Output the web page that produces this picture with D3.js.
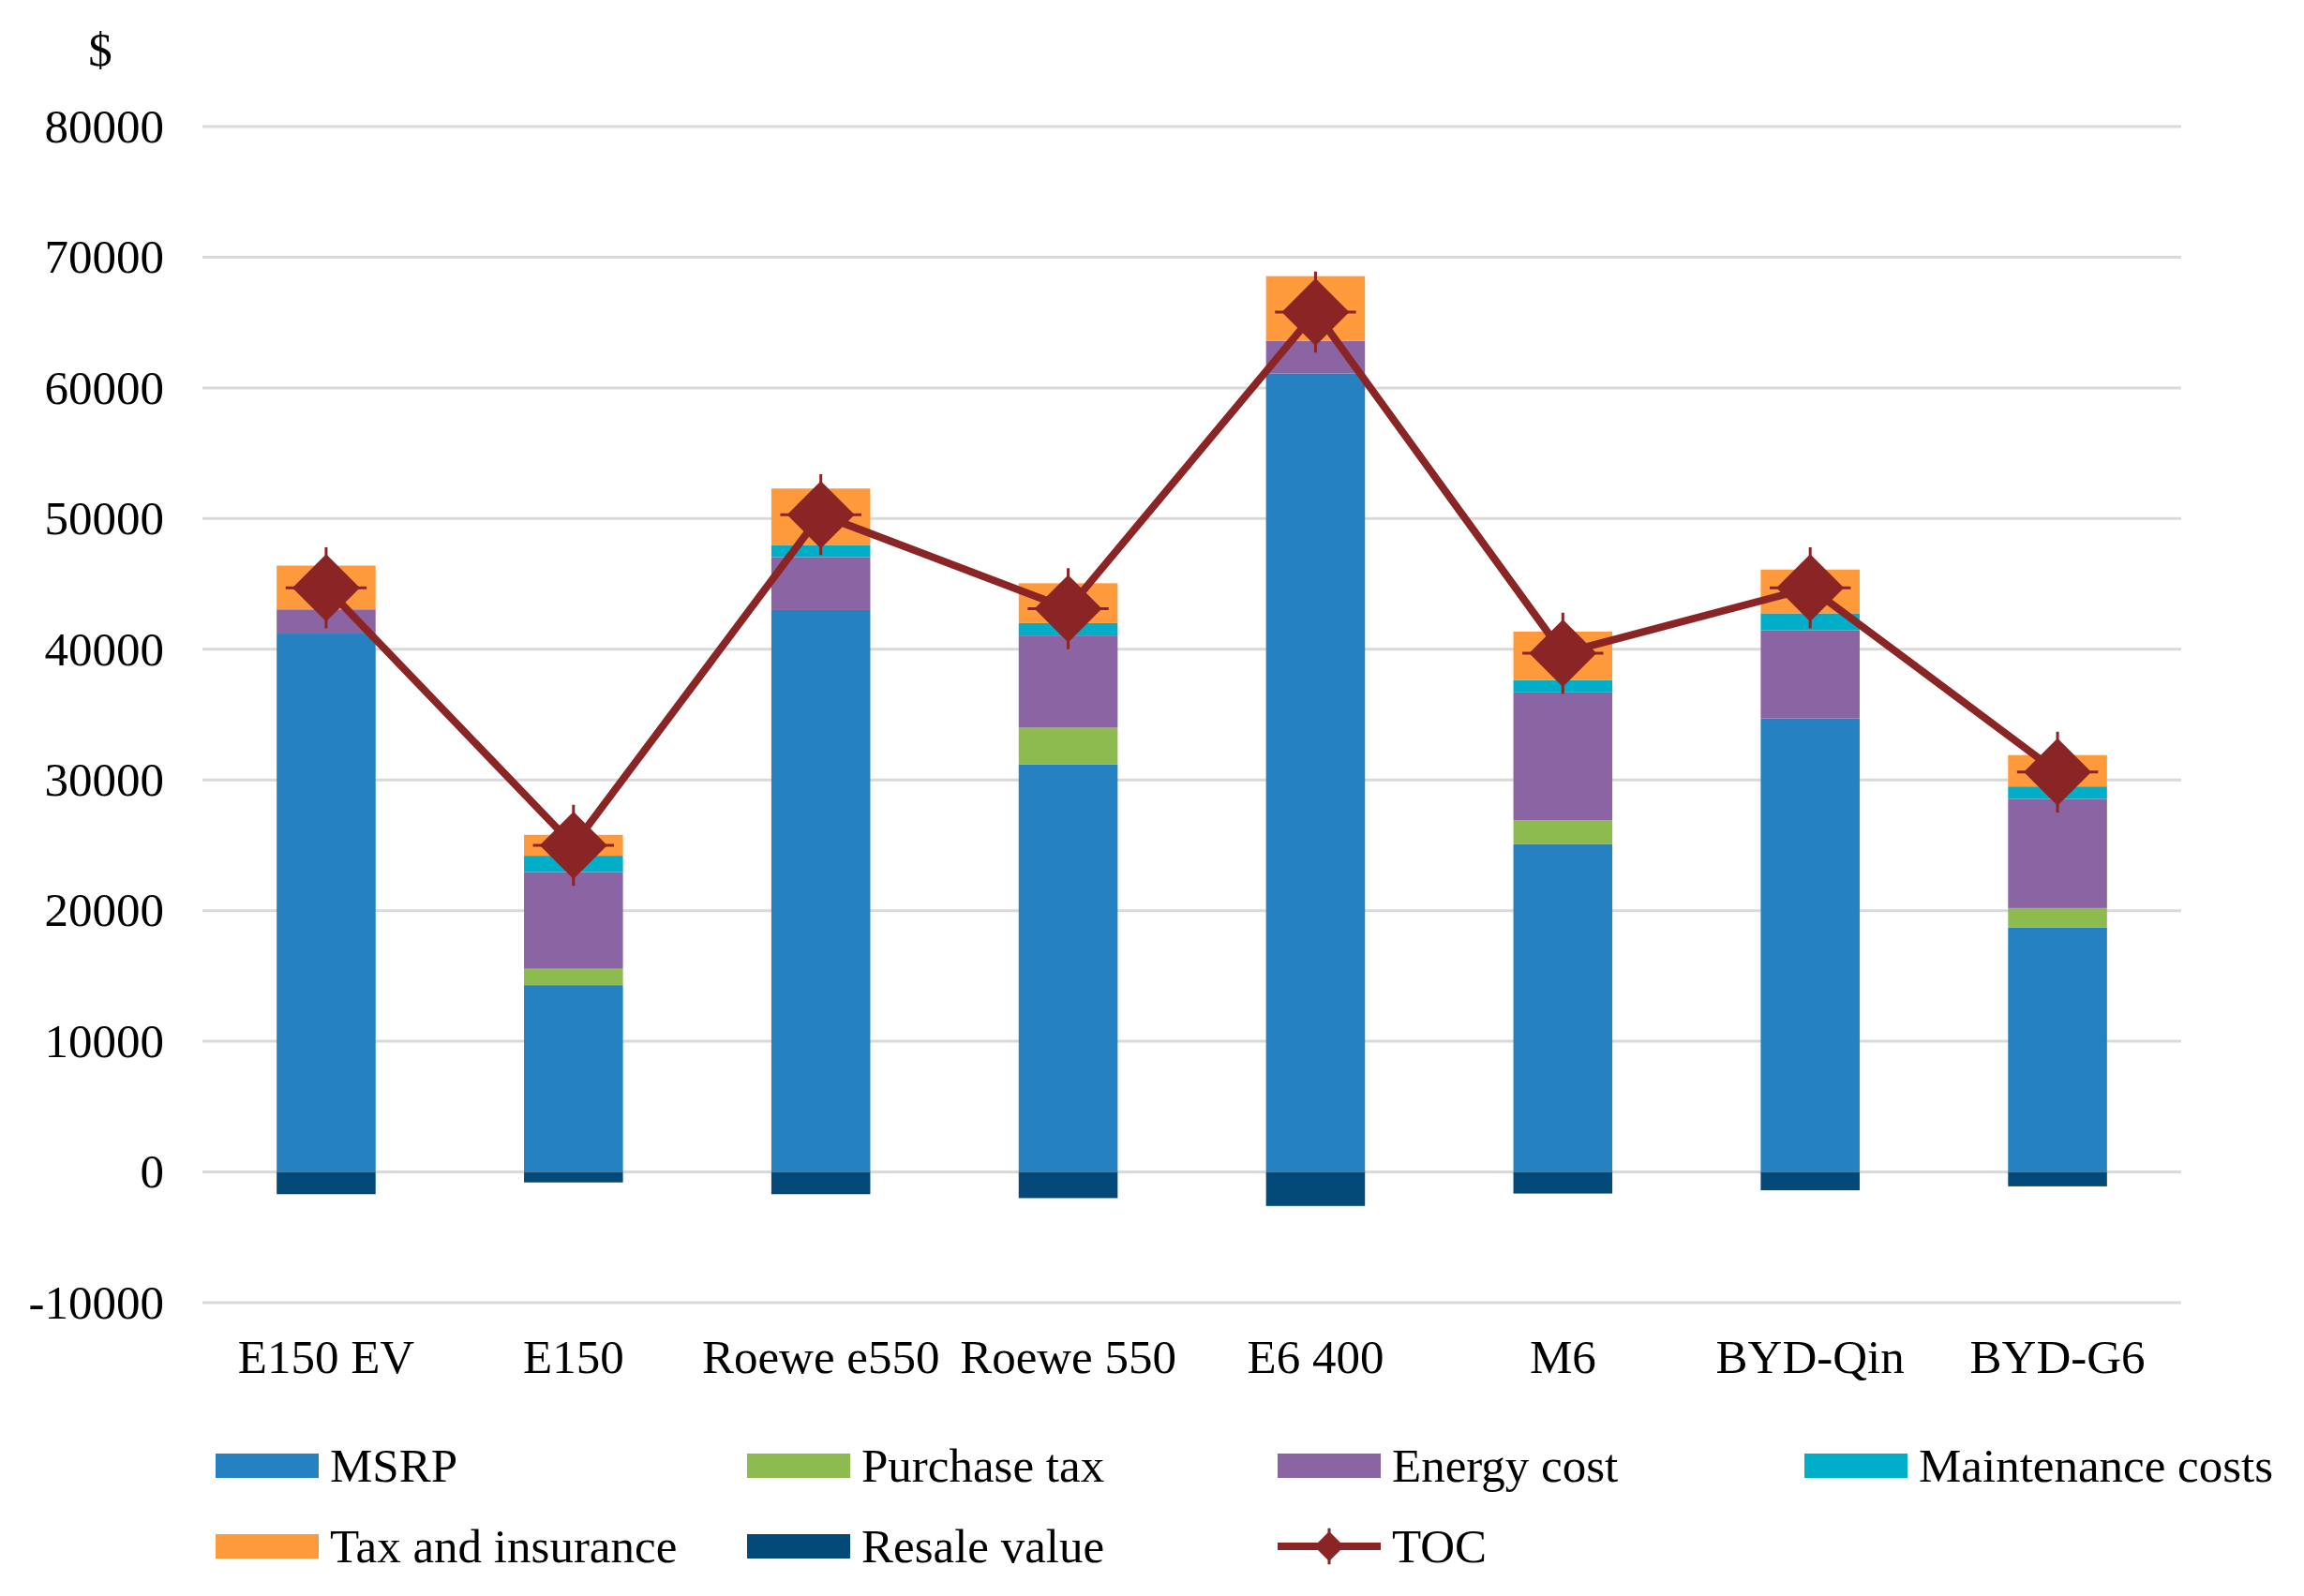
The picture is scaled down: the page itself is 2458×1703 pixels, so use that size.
<!DOCTYPE html>
<html>
<head>
<meta charset="utf-8">
<style>
  body { margin: 0; background: white; }
  text { font-family: "Liberation Serif", "Times New Roman", serif; fill: #000; }
</style>
</head>
<body>
<div id="chart"></div>
<script src="https://d3js.org/d3.v7.min.js"></script>
<script>
const cars = ['E150 EV', 'E150', 'Roewe e550', 'Roewe 550', 'E6 400', 'M6', 'BYD-Qin', 'BYD-G6'];

const msrp        = [41200, 14300, 43000, 31200, 61100, 25100, 34700, 18700];
const purchaseTax = [0, 1250, 0, 2800, 0, 1800, 0, 1500];
const energyCost  = [1850, 7400, 4050, 7050, 2500, 9800, 6750, 8350];
const maintenance = [0, 1250, 900, 950, 0, 950, 1300, 950];
const taxIns      = [3350, 1600, 4350, 3050, 4950, 3700, 3350, 2400];
const resale      = [-1700, -800, -1700, -2000, -2600, -1650, -1400, -1100];
const toc         = [44700, 25000, 50300, 43100, 65800, 39700, 44700, 30600];

const yTicks = [-10000, 0, 10000, 20000, 30000, 40000, 50000, 60000, 70000, 80000];

const series = [
  { name: 'MSRP', values: msrp, color: '#2581C0' },
  { name: 'Purchase tax', values: purchaseTax, color: '#8DBB4F' },
  { name: 'Energy cost', values: energyCost, color: '#8B64A3' },
  { name: 'Maintenance costs', values: maintenance, color: '#00AEC7' },
  { name: 'Tax and insurance', values: taxIns, color: '#FF9A3C' },
  { name: 'Resale value', values: resale, color: '#034A78' }
];
const tocColor = '#8B2525';

const width = 2458, height = 1703;
const plotLeft = 216, plotRight = 2327, plotTop = 135, plotBottom = 1390;
const fontSize = '51px';

const svg = d3.select('#chart').append('svg')
  .attr('width', width)
  .attr('height', height);

const x = d3.scaleBand().domain(cars).range([plotLeft, plotRight]).paddingInner(0.6).paddingOuter(0.3);
const y = d3.scaleLinear().domain([-10000, 80000]).range([plotBottom, plotTop]);

// gridlines
svg.append('g')
  .selectAll('line')
  .data(yTicks)
  .join('line')
  .attr('x1', plotLeft)
  .attr('x2', plotRight)
  .attr('y1', d => y(d))
  .attr('y2', d => y(d))
  .attr('stroke', '#D9D9D9')
  .attr('stroke-width', 3);

// y axis labels (plain hyphen for the negative tick, like the original)
const yAxis = d3.axisLeft(y).tickValues(yTicks).tickSize(0).tickPadding(0).tickFormat(d => String(d));
svg.append('g')
  .attr('transform', `translate(175,0)`)
  .call(yAxis)
  .call(g => g.select('.domain').remove())
  .selectAll('text')
  .style('font-family', '"Liberation Serif", serif')
  .style('font-size', fontSize)
  .attr('fill', '#000');

svg.append('text')
  .attr('x', 107)
  .attr('y', 70)
  .attr('text-anchor', 'middle')
  .style('font-size', fontSize)
  .text('$');

// stacked bars: positives stacked upwards from 0, resale downwards
const bars = svg.append('g');
cars.forEach((car, i) => {
  let base = 0;
  series.forEach(s => {
    const v = s.values[i];
    if (v === 0) return;
    let y0, y1;
    if (v > 0) { y0 = base; y1 = base + v; base = y1; }
    else { y0 = v; y1 = 0; }
    bars.append('rect')
      .attr('x', x(car))
      .attr('width', x.bandwidth())
      .attr('y', y(y1))
      .attr('height', y(y0) - y(y1))
      .attr('fill', s.color);
  });
});

// TOC line
const line = d3.line()
  .x((d, i) => x(cars[i]) + x.bandwidth() / 2)
  .y(d => y(d));

svg.append('path')
  .datum(toc)
  .attr('d', line)
  .attr('fill', 'none')
  .attr('stroke', tocColor)
  .attr('stroke-width', 8);

function marker(g, cx, cy, r) {
  g.append('path')
    .attr('d', `M${cx},${cy - r} L${cx + r},${cy} L${cx},${cy + r} L${cx - r},${cy} Z`)
    .attr('fill', tocColor);
  g.append('path')
    .attr('d', `M${cx},${cy - r * 1.2} V${cy + r * 1.2} M${cx - r * 1.2},${cy} H${cx + r * 1.2}`)
    .attr('stroke', tocColor)
    .attr('stroke-width', 3);
}

const markers = svg.append('g');
toc.forEach((v, i) => marker(markers, x(cars[i]) + x.bandwidth() / 2, y(v), 36));

// x labels
svg.append('g')
  .selectAll('text')
  .data(cars)
  .join('text')
  .attr('x', d => x(d) + x.bandwidth() / 2)
  .attr('y', 1465)
  .attr('text-anchor', 'middle')
  .style('font-size', fontSize)
  .text(d => d);

// legend
const legendItems = [
  { name: 'MSRP', color: '#2581C0', lx: 230, ly: 1564 },
  { name: 'Purchase tax', color: '#8DBB4F', lx: 797, ly: 1564 },
  { name: 'Energy cost', color: '#8B64A3', lx: 1363, ly: 1564 },
  { name: 'Maintenance costs', color: '#00AEC7', lx: 1925, ly: 1564 },
  { name: 'Tax and insurance', color: '#FF9A3C', lx: 230, ly: 1650 },
  { name: 'Resale value', color: '#034A78', lx: 797, ly: 1650 },
  { name: 'TOC', color: tocColor, lx: 1363, ly: 1650, line: true }
];

const legend = svg.append('g');
legendItems.forEach(it => {
  if (it.line) {
    legend.append('line')
      .attr('x1', it.lx).attr('x2', it.lx + 110)
      .attr('y1', it.ly).attr('y2', it.ly)
      .attr('stroke', it.color).attr('stroke-width', 8);
    marker(legend, it.lx + 55, it.ly, 16);
  } else {
    legend.append('rect')
      .attr('x', it.lx).attr('y', it.ly - 13)
      .attr('width', 110).attr('height', 26)
      .attr('fill', it.color);
  }
  legend.append('text')
    .attr('x', it.lx + 122)
    .attr('y', it.ly + 17)
    .style('font-size', fontSize)
    .text(it.name);
});
</script>
</body>
</html>
